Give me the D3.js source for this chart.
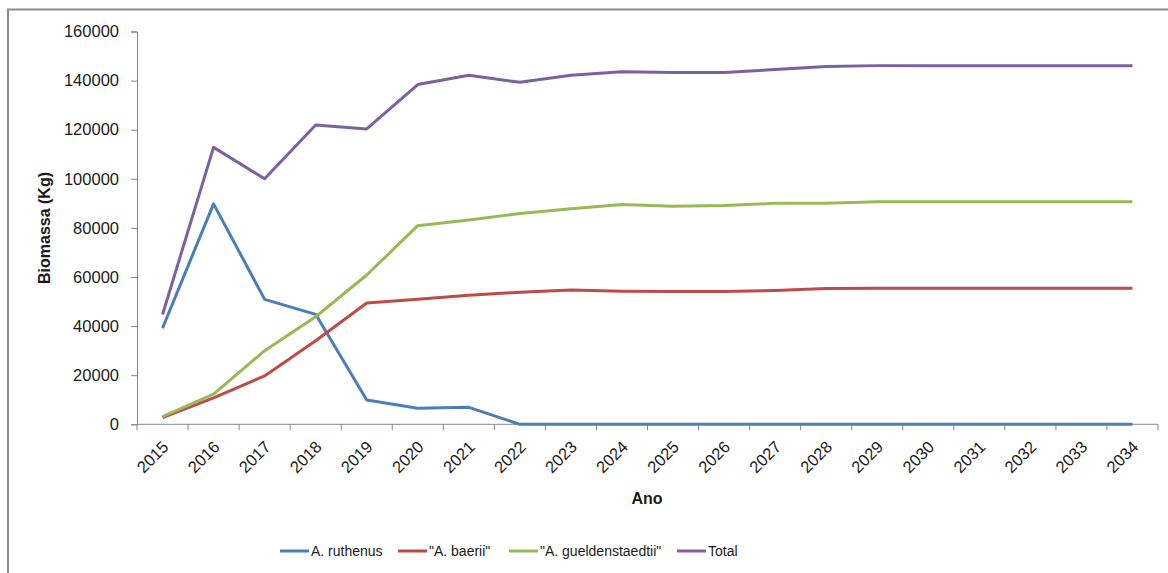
<!DOCTYPE html>
<html>
<head>
<meta charset="utf-8">
<script src="https://cdn.jsdelivr.net/npm/d3@7"></script>
<style>
  html, body { margin: 0; padding: 0; background: #fff; }
  svg { display: block; }
  text { font-family: "Liberation Sans", Arial, sans-serif; fill: #1a1a1a; }
</style>
</head>
<body>
<svg id="chart" width="1168" height="573"></svg>
<script>
// Years on the category axis
const years = ["2015","2016","2017","2018","2019","2020","2021","2022","2023","2024",
               "2025","2026","2027","2028","2029","2030","2031","2032","2033","2034"];

// Biomass (kg) per species and total
const ruthenus = [39200, 89800, 50900, 44800, 9900, 6500, 6900, 0, 0, 0,
                  0, 0, 0, 0, 0, 0, 0, 0, 0, 0];
const baerii = [2700, 10800, 19700, 34000, 49400, 50900, 52600, 53800, 54700, 54200,
                54100, 54100, 54500, 55300, 55400, 55400, 55400, 55400, 55400, 55400];
const gueldenstaedtii = [3100, 12300, 30000, 43800, 60800, 80900, 83200, 85900, 87800, 89500,
                         88800, 89100, 90000, 90000, 90700, 90700, 90700, 90700, 90700, 90700];
const total = [44700, 112800, 100000, 121900, 120300, 138400, 142200, 139300, 142200, 143600,
               143300, 143300, 144500, 145700, 146100, 146100, 146100, 146100, 146100, 146100];

const yTicks = [0, 20000, 40000, 60000, 80000, 100000, 120000, 140000, 160000];

const seriesNames = ["A. ruthenus", "\"A. baerii\"", "\"A. gueldenstaedtii\"", "Total"];
const seriesValues = [ruthenus, baerii, gueldenstaedtii, total];
const seriesColors = ["#4a7ebb", "#be4b48", "#98b954", "#7d60a0"];

const svg = d3.select("#chart");
const axisColor = "#868686";

// Outer chart frame (top and left edges fall inside the window)
svg.append("rect")
  .attr("x", 8).attr("y", 9.5)
  .attr("width", 1200).attr("height", 600)
  .attr("fill", "none").attr("stroke", "#8c8c8c").attr("stroke-width", 2);

const plot = { left: 137, right: 1158, top: 31.5, bottom: 424.3 };

const x = d3.scaleBand().domain(years).range([plot.left, plot.right]).padding(0);
const y = d3.scaleLinear().domain([0, 160000]).range([plot.bottom, plot.top]);

// Y axis
const yAxis = svg.append("g")
  .attr("transform", `translate(${plot.left},0)`)
  .call(d3.axisLeft(y).tickValues(yTicks).tickSize(6).tickPadding(12).tickFormat(d3.format("d")));
yAxis.select(".domain").attr("stroke", axisColor);
yAxis.selectAll(".tick line").attr("stroke", axisColor);
yAxis.selectAll(".tick text")
  .style("font-size", "16.5px")
  .style("font-family", "'Liberation Sans', Arial, sans-serif")
  .attr("fill", "#1a1a1a");

// X axis: ticks sit between categories
const xAxisG = svg.append("g").attr("transform", `translate(0,${plot.bottom})`);
xAxisG.append("line")
  .attr("x1", plot.left).attr("x2", plot.right)
  .attr("stroke", axisColor);
const boundaries = years.map(d => x(d)).concat([x(years[years.length - 1]) + x.bandwidth()]);
xAxisG.selectAll("line.tk").data(boundaries).enter().append("line")
  .attr("class", "tk")
  .attr("x1", d => d).attr("x2", d => d)
  .attr("y1", 0).attr("y2", 6)
  .attr("stroke", axisColor);

svg.append("g").selectAll("text").data(years).enter().append("text")
  .attr("transform", d => `translate(${x(d) + x.bandwidth() / 2 + 3},${444}) rotate(-45)`)
  .attr("text-anchor", "end")
  .attr("dy", "0.35em")
  .style("font-size", "16.5px")
  .text(d => d);

// Axis titles
svg.append("text")
  .attr("transform", "translate(50,228) rotate(-90)")
  .attr("text-anchor", "middle")
  .style("font-size", "16px").style("font-weight", "bold")
  .text("Biomassa (Kg)");

svg.append("text")
  .attr("x", 647).attr("y", 504)
  .attr("text-anchor", "middle")
  .style("font-size", "16px").style("font-weight", "bold")
  .text("Ano");

// Series lines
const line = d3.line()
  .x((d, i) => x(years[i]) + x.bandwidth() / 2)
  .y(d => y(d));

seriesValues.forEach((vals, i) => {
  svg.append("path")
    .datum(vals)
    .attr("fill", "none")
    .attr("stroke", seriesColors[i])
    .attr("stroke-width", 3)
    .attr("stroke-linejoin", "round")
    .attr("d", line);
});

// Legend
const legendX = [280, 398, 509, 677];
const legend = svg.append("g");
seriesNames.forEach((name, i) => {
  legend.append("line")
    .attr("x1", legendX[i]).attr("x2", legendX[i] + 29)
    .attr("y1", 551).attr("y2", 551)
    .attr("stroke", seriesColors[i]).attr("stroke-width", 3);
  legend.append("text")
    .attr("x", legendX[i] + 31).attr("y", 551)
    .attr("dy", "0.35em")
    .style("font-size", "14px")
    .text(name);
});
</script>
</body>
</html>
